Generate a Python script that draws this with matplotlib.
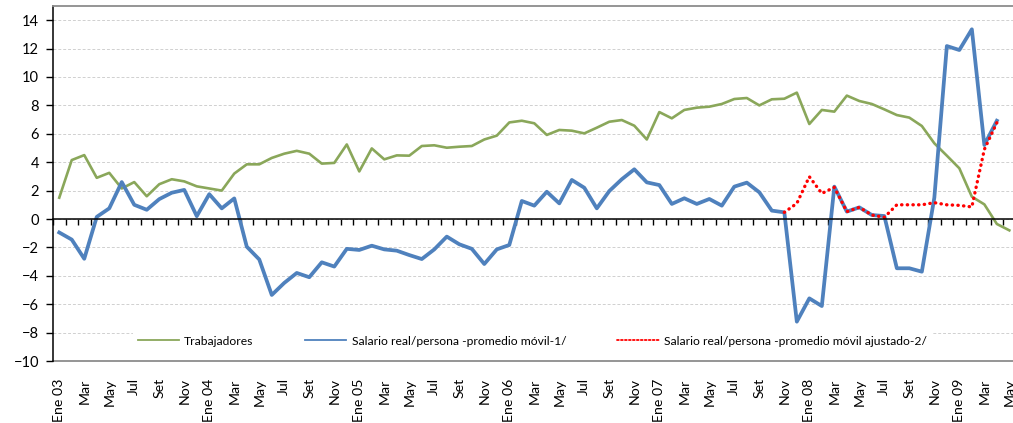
import numpy as np
import matplotlib
matplotlib.use('Agg')
import matplotlib.pyplot as plt

plt.rcParams['font.family'] = ['Lato', 'DejaVu Sans']

# monthly series, Ene 03 .. May 09
trabajadores = [1.5, 4.15, 4.5, 2.9, 3.25, 2.15, 2.6, 1.6, 2.45, 2.8,
                2.65, 2.3, 2.15, 2.0, 3.2, 3.85, 3.85, 4.3, 4.6, 4.8,
                4.6, 3.9, 3.95, 5.25, 3.35, 4.97, 4.2, 4.48, 4.46, 5.14,
                5.19, 5.02, 5.09, 5.14, 5.6, 5.87, 6.8, 6.92, 6.74, 5.92,
                6.27, 6.22, 6.03, 6.43, 6.85, 6.97, 6.57, 5.6, 7.53, 7.09,
                7.68, 7.84, 7.91, 8.1, 8.45, 8.52, 8.0, 8.43, 8.47, 8.9,
                6.69, 7.68, 7.56, 8.69, 8.31, 8.1, 7.72, 7.32, 7.14, 6.55,
                5.33, 4.46, 3.57, 1.57, 1.03, -0.35, -0.8]
salario = [-0.95, -1.45, -2.8, 0.15, 0.75, 2.6, 1.0, 0.65, 1.4, 1.85,
           2.05, 0.2, 1.75, 0.75, 1.45, -1.95, -2.85, -5.35, -4.5, -3.8,
           -4.1, -3.05, -3.35, -2.1, -2.18, -1.88, -2.14, -2.23, -2.54, -2.82,
           -2.14, -1.24, -1.78, -2.1, -3.17, -2.14, -1.83, 1.27, 0.94, 1.92,
           1.1, 2.75, 2.2, 0.75, 1.97, 2.8, 3.5, 2.58, 2.39, 1.06,
           1.46, 1.06, 1.41, 0.94, 2.28, 2.56, 1.88, 0.59, 0.47, -7.23,
           -5.59, -6.13, 2.28, 0.52, 0.82, 0.28, 0.21, -3.47, -3.47, -3.71,
           1.5, 12.18, 11.9, 13.36, 5.21, 6.92]
ajustado_start = 58  # Nov 07
salario_ajustado = [0.47, 1.1, 2.98, 1.8, 2.23, 0.52, 0.82, 0.28, 0.12, 1.0,
                    1.0, 1.0, 1.15, 1.0, 0.96, 0.85, 4.9, 6.78]

meses = ['Ene', 'Feb', 'Mar', 'Abr', 'May', 'Jun', 'Jul', 'Ago', 'Set', 'Oct', 'Nov', 'Dic']
n_months = 77
labels = []
for i in range(n_months):
    m = meses[i % 12]
    if i % 12 == 0:
        m = m + ' %02d' % (3 + i // 12)
    labels.append(m)

x_t = np.arange(len(trabajadores))
x_s = np.arange(len(salario))
x_a = np.arange(ajustado_start, ajustado_start + len(salario_ajustado))

fig = plt.figure(figsize=(10.13, 4.23), dpi=100)
ax = fig.add_axes([53 / 1013, 1 - 361 / 423, 962.6 / 1013, 355 / 423])

ax.plot(x_t, trabajadores, color='#8AA75A', lw=1.9, label='Trabajadores')
ax.plot(x_s, salario, color='#4F81BD', lw=2.7, label='Salario real/persona -promedio móvil-1/')
ax.plot(x_a, salario_ajustado, color='#FF0000', lw=2.4, linestyle=(0, (0.1, 1.6)),
        dash_capstyle='round', label='Salario real/persona -promedio móvil ajustado-2/')

ax.set_xlim(-0.5, 76.2)
ax.set_ylim(-10, 15)
ax.set_yticks(np.arange(-10, 15, 2))
ax.tick_params(axis='y', labelsize=10.5, length=5, width=1, pad=5, colors='black')
ax.grid(axis='y', color='#d0d0d0', linestyle=(0, (3, 2)), lw=0.7)
ax.set_axisbelow(True)

# category axis crossing at zero
ax.spines['bottom'].set_position(('data', 0))
ax.spines['bottom'].set_color('black')
ax.spines['bottom'].set_linewidth(1.1)
ax.set_xticks(np.arange(-0.5, n_months, 1))
ax.tick_params(axis='x', direction='out', length=4, width=1, labelbottom=False)
ax.spines['left'].set_linewidth(1.1)
ax.spines['top'].set_color('#8c8c8c')
ax.spines['top'].set_linewidth(1.3)
ax.spines['right'].set_visible(False)

sec = ax.secondary_xaxis(0.0)
sec.set_xticks(np.arange(0, n_months, 2))
sec.set_xticklabels(labels[::2], rotation=90, fontsize=10.2)
sec.tick_params(length=0, pad=12.5)
sec.spines['bottom'].set_color('#8c8c8c')
sec.spines['bottom'].set_linewidth(1.3)

leg = ax.legend(loc='center', bbox_to_anchor=(0.498, 0.056), ncol=3, fontsize=8.7,
                frameon=True, facecolor='white', edgecolor='none', framealpha=1,
                handlelength=3.4, handletextpad=0.45, columnspacing=4.25,
                borderpad=0.4, borderaxespad=0)
for line in leg.get_lines():
    line.set_linewidth(1.3)
leg.get_lines()[2].set_linestyle((0, (1, 1.2)))
leg.get_frame().set_boxstyle('square', pad=0)

fig.savefig('out.png', dpi=100)
